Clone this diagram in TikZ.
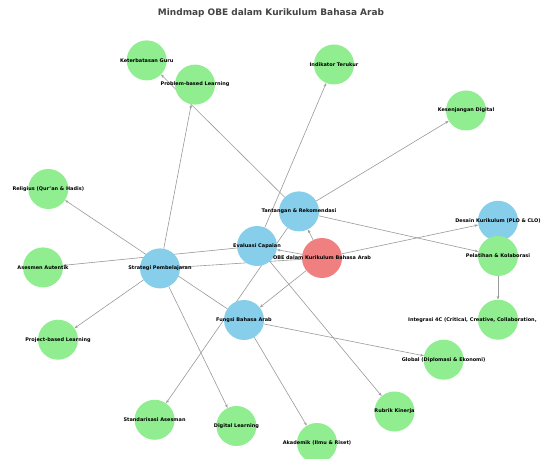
\documentclass[tikz,border=0pt]{standalone}
\usepackage{fontspec}
\setmainfont{DejaVu Sans}
\usetikzlibrary{arrows.meta}
\pgfdeclarelayer{bg}
\pgfsetlayers{bg,main}
\definecolor{skyb}{HTML}{87CEEB}
\definecolor{lgreen}{HTML}{90EE90}
\definecolor{lcoral}{HTML}{F08080}
\definecolor{edgec}{HTML}{9A9A9A}
\definecolor{titlec}{HTML}{444444}
\begin{document}
\begin{tikzpicture}[x=1bp,y=-1bp,
  bub/.style={circle,minimum size=40bp,inner sep=0pt,draw=none},
  bluebub/.style={bub,fill=skyb},
  greenbub/.style={bub,fill=lgreen},
  redbub/.style={bub,fill=lcoral},
  lab/.style={font=\bfseries\fontsize{5}{6}\selectfont,inner sep=0pt,text=black},
  edge/.style={draw=edgec,line width=0.6bp,-{Stealth[length=3.5bp,width=2.6bp]}},
  titlestyle/.style={font=\bfseries\fontsize{9}{11}\selectfont,text=titlec,inner sep=0pt}
]
\useasboundingbox (0,0) rectangle (542,459);

\node[titlestyle] (title) at (271,13) {Mindmap OBE dalam Kurikulum Bahasa Arab};

% circles
\node[greenbub] (keter) at (146.7,60.4) {};
\node[greenbub] (pbl) at (195,84.6) {};
\node[greenbub] (indik) at (334,64.5) {};
\node[greenbub] (kesen) at (466,110.5) {};
\node[greenbub] (relig) at (48.3,189) {};
\node[bluebub] (tantang) at (299,211.4) {};
\node[bluebub] (desain) at (498,220.8) {};
\node[bluebub] (eval) at (257,246) {};
\node[redbub] (obe) at (322,258) {};
\node[greenbub] (asesmen) at (43,267.4) {};
\node[bluebub] (strategi) at (160,268.4) {};
\node[greenbub] (pelatihan) at (498,256) {};
\node[bluebub] (fungsi) at (244,320) {};
\node[greenbub] (integrasi) at (498,319.7) {};
\node[greenbub] (global) at (443.6,359.7) {};
\node[greenbub] (project) at (58,339.7) {};
\node[greenbub] (rubrik) at (394.5,411.5) {};
\node[greenbub] (standar) at (154.6,419.8) {};
\node[greenbub] (digital) at (236.4,426) {};
\node[greenbub] (akademik) at (317,443) {};

% edges
\begin{pgfonlayer}{bg}
\fill[white] (0,0) rectangle (542,459);
\draw[edge] (obe) -- (desain);
\draw[edge] (obe) -- (strategi);
\draw[edge] (obe) -- (eval);
\draw[edge] (obe) -- (fungsi);
\draw[edge] (obe) -- (tantang);
\draw[edge] (strategi) -- (pbl);
\draw[edge] (strategi) -- (project);
\draw[edge] (strategi) -- (digital);
\draw[edge] (eval) -- (asesmen);
\draw[edge] (eval) -- (rubrik);
\draw[edge] (eval) -- (indik);
\draw[edge] (tantang) -- (standar);
\draw[edge] (tantang) -- (keter);
\draw[edge] (tantang) -- (kesen);
\draw[edge] (tantang) -- (pelatihan);
\draw[edge] (fungsi) -- (relig);
\draw[edge] (fungsi) -- (akademik);
\draw[edge] (fungsi) -- (global);
\draw[edge] (pelatihan) -- (integrasi);
\end{pgfonlayer}

% labels
\node[lab] (l-keter) at (keter) {Keterbatasan Guru};
\node[lab] (l-pbl) at (pbl) {Problem-based Learning};
\node[lab] (l-indik) at (indik) {Indikator Terukur};
\node[lab] (l-kesen) at (kesen) {Kesenjangan Digital};
\node[lab] (l-relig) at (relig) {Religius (Qur'an \& Hadis)};
\node[lab] (l-tantang) at (tantang) {Tantangan \& Rekomendasi};
\node[lab] (l-desain) at (desain) {Desain Kurikulum (PLO \& CLO)};
\node[lab] (l-eval) at (eval) {Evaluasi Capaian};
\node[lab] (l-obe) at (obe) {OBE dalam Kurikulum Bahasa Arab};
\node[lab] (l-asesmen) at (asesmen) {Asesmen Autentik};
\node[lab] (l-strategi) at (strategi) {Strategi Pembelajaran};
\node[lab] (l-pelatihan) at (pelatihan) {Pelatihan \& Kolaborasi};
\node[lab] (l-fungsi) at (fungsi) {Fungsi Bahasa Arab};
\node[lab,anchor=west] (l-integrasi) at (408,319.7) {Integrasi 4C (Critical, Creative, Collaboration,};
\node[lab] (l-global) at (global) {Global (Diplomasi \& Ekonomi)};
\node[lab] (l-project) at (project) {Project-based Learning};
\node[lab] (l-rubrik) at (rubrik) {Rubrik Kinerja};
\node[lab] (l-standar) at (standar) {Standarisasi Asesman};
\node[lab] (l-digital) at (digital) {Digital Learning};
\node[lab] (l-akademik) at (akademik) {Akademik (Ilmu \& Riset)};
\end{tikzpicture}
\end{document}
